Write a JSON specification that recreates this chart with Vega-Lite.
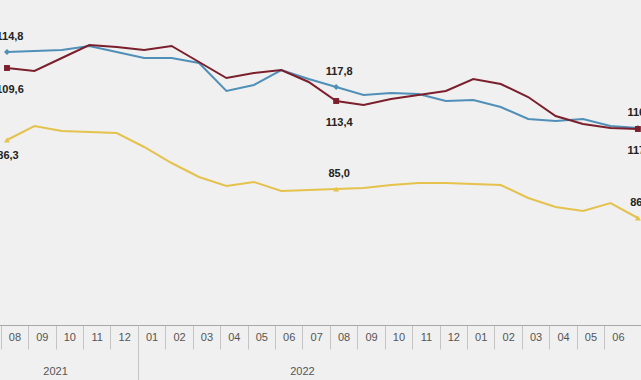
{
  "$schema": "https://vega.github.io/schema/vega-lite/v6.json",
  "width": 641,
  "height": 325,
  "autosize": {"type": "none"},
  "padding": {"left": 0, "top": 0, "right": 0, "bottom": 55},
  "background": "#f0f0f0",
  "config": {"view": {"stroke": null}, "font": "Liberation Sans"},
  "data": {"values": [
      {"m": "2021-07", "s": "Hizmet", "v": 114.8, "lab": "114,8"},
      {"m": "2021-08", "s": "Hizmet", "v": 115.2},
      {"m": "2021-09", "s": "Hizmet", "v": 115.6},
      {"m": "2021-10", "s": "Hizmet", "v": 117.2},
      {"m": "2021-11", "s": "Hizmet", "v": 114.8},
      {"m": "2021-12", "s": "Hizmet", "v": 112.4},
      {"m": "2022-01", "s": "Hizmet", "v": 112.4},
      {"m": "2022-02", "s": "Hizmet", "v": 110.4},
      {"m": "2022-03", "s": "Hizmet", "v": 99.2},
      {"m": "2022-04", "s": "Hizmet", "v": 101.6},
      {"m": "2022-05", "s": "Hizmet", "v": 107.6},
      {"m": "2022-06", "s": "Hizmet", "v": 104.0},
      {"m": "2022-07", "s": "Hizmet", "v": 100.8, "lab": "117,8"},
      {"m": "2022-08", "s": "Hizmet", "v": 97.6},
      {"m": "2022-09", "s": "Hizmet", "v": 98.4},
      {"m": "2022-10", "s": "Hizmet", "v": 98.0},
      {"m": "2022-11", "s": "Hizmet", "v": 95.2},
      {"m": "2022-12", "s": "Hizmet", "v": 95.6},
      {"m": "2023-01", "s": "Hizmet", "v": 92.8},
      {"m": "2023-02", "s": "Hizmet", "v": 88.0},
      {"m": "2023-03", "s": "Hizmet", "v": 87.2},
      {"m": "2023-04", "s": "Hizmet", "v": 88.0},
      {"m": "2023-05", "s": "Hizmet", "v": 85.2},
      {"m": "2023-06", "s": "Hizmet", "v": 84.4, "lab": "116,9"},
      {"m": "2021-07", "s": "Perakende", "v": 108.4, "lab": "109,6"},
      {"m": "2021-08", "s": "Perakende", "v": 107.2},
      {"m": "2021-09", "s": "Perakende", "v": 112.4},
      {"m": "2021-10", "s": "Perakende", "v": 117.6},
      {"m": "2021-11", "s": "Perakende", "v": 116.8},
      {"m": "2021-12", "s": "Perakende", "v": 115.6},
      {"m": "2022-01", "s": "Perakende", "v": 117.2},
      {"m": "2022-02", "s": "Perakende", "v": 110.8},
      {"m": "2022-03", "s": "Perakende", "v": 104.4},
      {"m": "2022-04", "s": "Perakende", "v": 106.4},
      {"m": "2022-05", "s": "Perakende", "v": 107.6},
      {"m": "2022-06", "s": "Perakende", "v": 102.8},
      {"m": "2022-07", "s": "Perakende", "v": 95.2, "lab": "113,4"},
      {"m": "2022-08", "s": "Perakende", "v": 93.6},
      {"m": "2022-09", "s": "Perakende", "v": 96.0},
      {"m": "2022-10", "s": "Perakende", "v": 97.6},
      {"m": "2022-11", "s": "Perakende", "v": 99.2},
      {"m": "2022-12", "s": "Perakende", "v": 104.0},
      {"m": "2023-01", "s": "Perakende", "v": 102.0},
      {"m": "2023-02", "s": "Perakende", "v": 96.8},
      {"m": "2023-03", "s": "Perakende", "v": 89.2},
      {"m": "2023-04", "s": "Perakende", "v": 86.0},
      {"m": "2023-05", "s": "Perakende", "v": 84.4},
      {"m": "2023-06", "s": "Perakende", "v": 84.0, "lab": "117,9"},
      {"m": "2021-07", "s": "İnşaat", "v": 79.6, "lab": "86,3"},
      {"m": "2021-08", "s": "İnşaat", "v": 85.2},
      {"m": "2021-09", "s": "İnşaat", "v": 83.2},
      {"m": "2021-10", "s": "İnşaat", "v": 82.8},
      {"m": "2021-11", "s": "İnşaat", "v": 82.4},
      {"m": "2021-12", "s": "İnşaat", "v": 76.8},
      {"m": "2022-01", "s": "İnşaat", "v": 70.4},
      {"m": "2022-02", "s": "İnşaat", "v": 64.8},
      {"m": "2022-03", "s": "İnşaat", "v": 61.2},
      {"m": "2022-04", "s": "İnşaat", "v": 62.8},
      {"m": "2022-05", "s": "İnşaat", "v": 59.2},
      {"m": "2022-06", "s": "İnşaat", "v": 59.6},
      {"m": "2022-07", "s": "İnşaat", "v": 60.0, "lab": "85,0"},
      {"m": "2022-08", "s": "İnşaat", "v": 60.4},
      {"m": "2022-09", "s": "İnşaat", "v": 61.6},
      {"m": "2022-10", "s": "İnşaat", "v": 62.4},
      {"m": "2022-11", "s": "İnşaat", "v": 62.4},
      {"m": "2022-12", "s": "İnşaat", "v": 62.0},
      {"m": "2023-01", "s": "İnşaat", "v": 61.6},
      {"m": "2023-02", "s": "İnşaat", "v": 56.4},
      {"m": "2023-03", "s": "İnşaat", "v": 52.8},
      {"m": "2023-04", "s": "İnşaat", "v": 51.2},
      {"m": "2023-05", "s": "İnşaat", "v": 54.4},
      {"m": "2023-06", "s": "İnşaat", "v": 48.4, "lab": "86,7"}
  ]},
  "encoding": {
    "x": {
      "field": "m", "type": "ordinal",
      "scale": {"type": "band", "range": [-6.72, 651.6], "paddingInner": 0, "paddingOuter": 0},
      "axis": null
    },
    "y": {
      "field": "v", "type": "quantitative",
      "scale": {"domain": [5.6, 135.6], "nice": false, "zero": false},
      "axis": null
    }
  },
  "layer": [
    {
      "mark": {"type": "line", "strokeWidth": 2},
      "encoding": {
        "x": {
          "field": "m", "type": "ordinal",
          "axis": {
            "orient": "bottom", "title": null, "labelExpr": "slice(datum.value, 5)",
            "tickSize": 24, "tickOffset": -33.7, "labelOffset": 13.7,
            "labelPadding": -18, "labelAngle": 0,
            "labelFontSize": 11, "labelColor": "#555555", "tickColor": "#c4c4c4",
            "domainColor": "#a8a8a8", "labelFont": "Liberation Sans", "grid": false
          }
        },
        "color": {
          "field": "s", "type": "nominal",
          "scale": {"domain": ["Hizmet", "Perakende", "İnşaat"], "range": ["#4f8fb8", "#7a1f2b", "#e4c24c"]},
          "legend": null
        }
      }
    },
    {
      "transform": [{"filter": "isValid(datum.lab)"}],
      "mark": {"type": "point", "filled": true, "opacity": 1, "size": 35},
      "encoding": {
        "color": {"field": "s", "type": "nominal", "legend": null},
        "shape": {"field": "s", "type": "nominal", "scale": {"domain": ["Hizmet", "Perakende", "İnşaat"], "range": ["diamond", "square", "triangle-up"]}, "legend": null}
      }
    },
    {
      "transform": [{"filter": "isValid(datum.lab) && (datum.s == 'Hizmet' || (datum.s == 'İnşaat' && datum.m != '2021-07'))"}],
      "mark": {"type": "text", "dy": -15, "dx": 3, "fontSize": 11, "fontWeight": "bold", "font": "Liberation Sans", "color": "#222222"},
      "encoding": {"text": {"field": "lab"}}
    },
    {
      "transform": [{"filter": "isValid(datum.lab) && datum.s == 'Perakende'"}],
      "mark": {"type": "text", "dy": 22, "dx": 3, "fontSize": 11, "fontWeight": "bold", "font": "Liberation Sans", "color": "#222222"},
      "encoding": {"text": {"field": "lab"}}
    },
    {
      "transform": [{"filter": "isValid(datum.lab) && datum.s == 'İnşaat' && datum.m == '2021-07'"}],
      "mark": {"type": "text", "dy": 16, "dx": 1, "fontSize": 11, "fontWeight": "bold", "font": "Liberation Sans", "color": "#222222"},
      "encoding": {"text": {"field": "lab"}}
    },
    {
      "transform": [{"filter": "datum.s == 'Hizmet' && datum.m == '2022-01'"}],
      "mark": {"type": "rule", "opacity": 0},
      "encoding": {
        "x": {
          "field": "m", "type": "ordinal",
          "axis": {
            "orient": "bottom", "title": null, "values": ["2022-01"],
            "labels": false, "domain": false, "grid": false,
            "tickSize": 58, "tickOffset": -33.7, "tickColor": "#c4c4c4"
          }
        }
      }
    },
    {
      "transform": [{"filter": "datum.s == 'Hizmet' && (datum.m == '2021-09' || datum.m == '2022-06')"}],
      "mark": {"type": "rule", "opacity": 0},
      "encoding": {
        "x": {
          "field": "m", "type": "ordinal",
          "axis": {
            "orient": "bottom", "title": null, "values": ["2021-09", "2022-06"],
            "labelExpr": "slice(datum.value, 0, 4)",
            "labelOffset": -6.3,
            "ticks": false, "domain": false, "grid": false,
            "labelPadding": 40, "labelFontSize": 11, "labelAngle": 0,
            "labelColor": "#555555", "labelFont": "Liberation Sans"
          }
        }
      }
    }
  ],
  "resolve": {"axis": {"x": "independent"}}
}
